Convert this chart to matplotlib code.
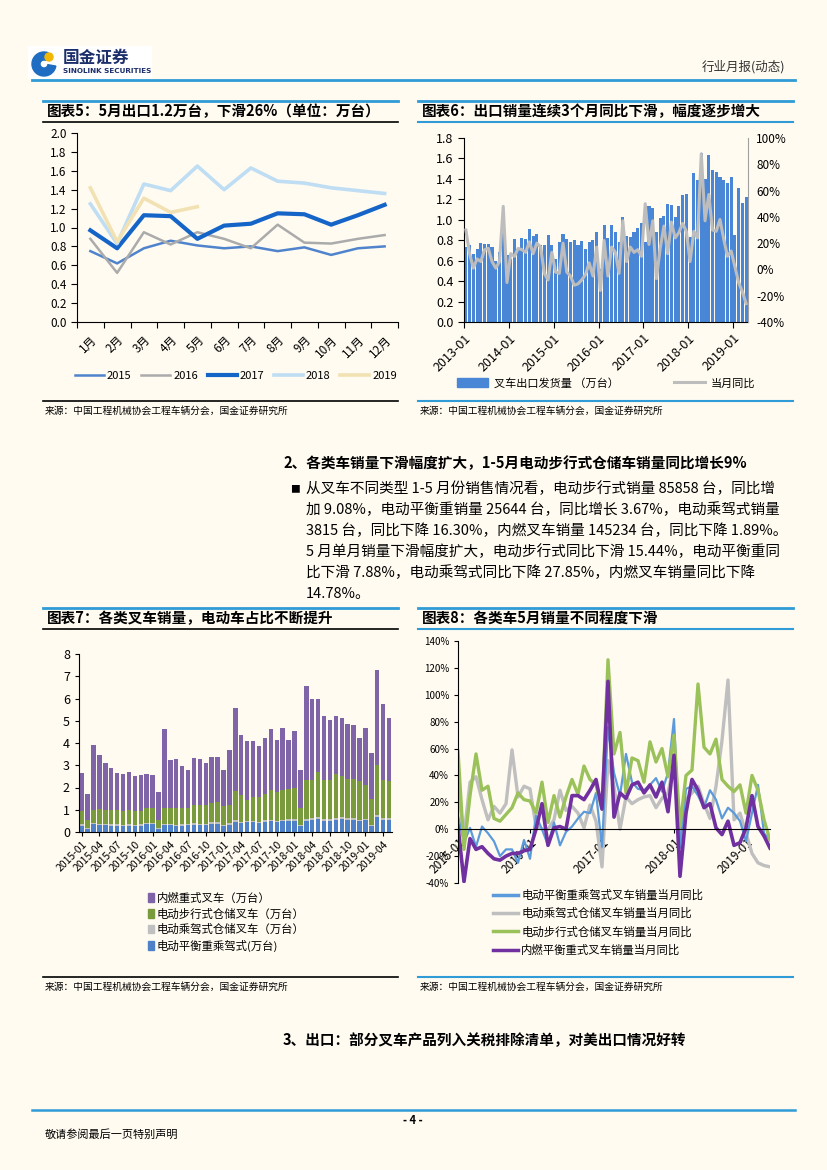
import numpy as np
import matplotlib.pyplot as plt
from matplotlib.lines import Line2D
from matplotlib.patches import Patch, Rectangle, Wedge, Circle
from matplotlib.ticker import FuncFormatter

plt.rcParams['font.family'] = ['Noto Sans CJK SC', 'DejaVu Sans']
plt.rcParams['axes.unicode_minus'] = False

W, H = 827, 1170
BG = '#FFFBF1'
HEAD_BLUE = '#2F9BD7'

# ---- chart 5: monthly exports by year (10k units)
months5 = ['1月', '2月', '3月', '4月', '5月', '6月', '7月', '8月', '9月', '10月', '11月', '12月']
exp_2015 = [0.75, 0.62, 0.78, 0.86, 0.81, 0.78, 0.80, 0.75, 0.79, 0.71, 0.78, 0.80]
exp_2016 = [0.88, 0.52, 0.95, 0.82, 0.95, 0.88, 0.78, 1.03, 0.84, 0.83, 0.88, 0.92]
exp_2017 = [0.97, 0.78, 1.13, 1.12, 0.88, 1.02, 1.04, 1.15, 1.14, 1.03, 1.13, 1.24]
exp_2018 = [1.25, 0.83, 1.46, 1.39, 1.65, 1.40, 1.63, 1.49, 1.47, 1.42, 1.39, 1.36]
exp_2019 = [1.42, 0.85, 1.31, 1.16, 1.22]

# ---- chart 6: export volume 2013-02 .. 2019-05 and yoy
exp_2013 = [0.73, 0.75, 0.67, 0.71, 0.77, 0.76, 0.76, 0.73, 0.60, 0.68, 0.93]
exp_2014 = [0.66, 0.62, 0.81, 0.72, 0.82, 0.81, 0.91, 0.84, 0.86, 0.75, 0.75, 0.85]
exp6 = exp_2013 + exp_2014 + exp_2015 + exp_2016 + exp_2017 + exp_2018 + exp_2019
yoy6 = [30, 12, 1, 8, 6, 15, 16, 6, 1, 6, 48,
        -10, 12, 10, 16, 15, 13, 21, 12, 20, 17, -3, -8,
        13, -2, -3, 20, -2, -5, -12, -11, -8, -4, 5, -5,
        17, -16, 22, -5, 17, 13, -3, 37, 6, 17, 13, 15,
        10, 50, 19, 37, -7, 16, 33, 12, 36, 24, 28, 35,
        29, 6, 29, 24, 88, 37, 57, 30, 29, 38, 23, 10,
        14, 2, -10, -17, -26]
years6 = ['2013-01', '2014-01', '2015-01', '2016-01', '2017-01', '2018-01', '2019-01']

# ---- chart 7: sales by type 2015-01 .. 2019-05 (10k units)
labels7 = ['2015-01', '2015-04', '2015-07', '2015-10', '2016-01', '2016-04', '2016-07', '2016-10',
           '2017-01', '2017-04', '2017-07', '2017-10', '2018-01', '2018-04', '2018-07', '2018-10',
           '2019-01', '2019-04']
elec_cb = [0.28, 0.15, 0.35, 0.30, 0.30, 0.28, 0.28, 0.27, 0.28, 0.27, 0.28, 0.35,
           0.35, 0.15, 0.30, 0.30, 0.25, 0.28, 0.30, 0.33, 0.32, 0.30, 0.38, 0.38,
           0.25, 0.33, 0.45, 0.40, 0.43, 0.43, 0.40, 0.47, 0.48, 0.43, 0.48, 0.50,
           0.50, 0.25, 0.50, 0.53, 0.57, 0.50, 0.50, 0.55, 0.57, 0.55, 0.53, 0.48,
           0.52, 0.28, 0.66, 0.55, 0.55]
elec_ride = [0.06, 0.03, 0.07, 0.06, 0.06, 0.06, 0.06, 0.06, 0.06, 0.05, 0.06, 0.06,
             0.06, 0.03, 0.06, 0.06, 0.06, 0.06, 0.06, 0.06, 0.06, 0.06, 0.07, 0.07,
             0.05, 0.06, 0.08, 0.07, 0.07, 0.07, 0.07, 0.08, 0.08, 0.07, 0.08, 0.08,
             0.08, 0.05, 0.09, 0.09, 0.09, 0.09, 0.09, 0.10, 0.10, 0.10, 0.10, 0.08,
             0.08, 0.05, 0.09, 0.08, 0.08]
elec_walk = [0.59, 0.37, 0.58, 0.67, 0.61, 0.66, 0.63, 0.63, 0.63, 0.61, 0.62, 0.66,
             0.67, 0.37, 0.74, 0.74, 0.79, 0.73, 0.71, 0.81, 0.82, 0.86, 0.85, 0.90,
             0.85, 0.81, 1.30, 1.18, 0.95, 1.07, 1.10, 1.15, 1.31, 1.30, 1.34, 1.37,
             1.39, 0.80, 1.73, 1.70, 2.02, 1.75, 1.75, 1.97, 1.86, 1.75, 1.75, 1.74,
             1.50, 1.17, 2.27, 1.72, 1.65]
ic_heavy = [1.72, 1.17, 2.91, 2.43, 2.15, 1.88, 1.68, 1.65, 1.73, 1.57, 1.59, 1.55,
            1.47, 1.25, 3.53, 2.12, 2.17, 1.91, 1.70, 2.11, 2.07, 1.88, 2.06, 2.01,
            1.65, 2.47, 3.73, 2.69, 2.65, 2.52, 2.31, 2.54, 2.74, 2.35, 2.76, 2.18,
            2.55, 1.70, 4.26, 3.66, 3.30, 2.89, 2.71, 2.61, 2.59, 2.45, 2.41, 1.94,
            2.57, 2.05, 4.26, 3.39, 2.86]

# ---- chart 8: monthly yoy by type (%), 2015-01 .. 2019-05
years8 = ['2015-01', '2016-01', '2017-01', '2018-01', '2019-01']
yoy_cb = [10, -10, 1, -13, 2, -3, -9, -20, -15, -15, -25, -8,
          -22, 10, 0, -12, 5, -12, -2, 2, 8, 13, 12, 27,
          -13, 76, 42, 25, 56, 35, 30, 29, 33, 38, 28, 42,
          82, -14, 30, 32, 25, 16, 29, 22, 8, 16, 12, 6,
          -9, 12, 33, -3, -8]
yoy_ride = [30, -5, 35, 39, 22, 7, 17, 12, 19, 59, 24, 32,
            30, 2, 0, 0, 7, 29, 14, 17, 12, 1, 18, 6,
            -28, 51, 32, 0, 24, 19, 22, 24, 25, 16, 23, 27,
            49, -3, 22, 27, 32, 19, 8, 32, 66, 111, 7, 12,
            -3, -18, -25, -27, -28]
yoy_walk = [58, -15, 25, 56, 29, 32, 8, 6, 11, 16, 27, 22,
            21, 12, 35, 5, 25, 9, 24, 37, 26, 47, 37, 33,
            15, 126, 56, 72, 27, 53, 51, 35, 65, 50, 60, 39,
            70, 2, 40, 44, 108, 61, 56, 67, 37, 32, 28, 33,
            12, 40, 29, 7, -8]
yoy_ic = [2, -39, -7, -15, -13, -18, -22, -23, -20, -18, -18, -16,
          -15, 0, 19, -12, 1, 2, 0, 25, 25, 22, 29, 37,
          15, 110, 9, 27, 23, 33, 35, 27, 33, 24, 35, 13,
          55, -35, 12, 37, 29, 16, 19, 1, -4, 6, -12, -10,
          1, 25, 2, -5, -14]

source = '来源：中国工程机械协会工程车辆分会，国金证券研究所'

fig = plt.figure(figsize=(W / 100, H / 100), dpi=100, facecolor=BG)


def box(l, t, r, b):
    return [l / W, 1 - b / H, (r - l) / W, (b - t) / H]


def hline(x0, x1, y, color, lw):
    fig.add_artist(Line2D([x0 / W, x1 / W], [1 - y / H, 1 - y / H],
                          transform=fig.transFigure, color=color, lw=lw))


def txt(x, y, s, **kw):
    kw.setdefault('va', 'center')
    fig.text(x / W, 1 - y / H, s, **kw)


def pct(v, pos):
    return f'{v:.0f}%'


# header / logo
fig.add_artist(Rectangle((28 / W, 1 - 79 / H), 124 / W, 33 / H, transform=fig.transFigure,
                         facecolor='white', edgecolor='none', zorder=-5))
lax = fig.add_axes(box(30, 47, 60, 79))
lax.set_zorder(5)
lax.patch.set_visible(False)
lax.set_xlim(0, 30)
lax.set_ylim(0, 32)
lax.axis('off')
lax.add_patch(Wedge((14, 15), 12, 70, 350, width=8, color='#1F6DC2'))
lax.add_patch(Circle((19, 22), 4, color='#F2B705'))
txt(63, 58, '国金证券', fontsize=12, fontweight='bold', color='#1C2F6B')
txt(63, 71, 'SINOLINK SECURITIES', fontsize=5.2, fontweight='bold', color='#1C2F6B',
    family=['DejaVu Sans'])
txt(785, 67, '行业月报(动态)', fontsize=9, ha='right', color='#333333')
hline(32, 795, 80, HEAD_BLUE, 2)

# title boxes
hline(43, 398, 101, HEAD_BLUE, 2)
hline(43, 398, 122, 'black', 1.2)
hline(418, 793, 101, HEAD_BLUE, 2)
hline(418, 793, 122, HEAD_BLUE, 1.5)
txt(47, 111, '图表5：5月出口1.2万台，下滑26%（单位：万台）', fontsize=10.5, fontweight='bold')
txt(422, 111, '图表6：出口销量连续3个月同比下滑，幅度逐步增大', fontsize=10.5, fontweight='bold')

# ---- chart 5
ax5 = fig.add_axes(box(77, 133, 398, 322))
ax5.set_facecolor('none')
x5 = np.arange(12)
ax5.plot(x5, exp_2015, color='#4F84CC', lw=1.8)
ax5.plot(x5, exp_2016, color='#ABABAB', lw=1.8)
ax5.plot(x5, exp_2017, color='#1565C8', lw=3.0)
ax5.plot(x5, exp_2018, color='#BFDDF3', lw=2.6)
ax5.plot(np.arange(len(exp_2019)), exp_2019, color='#F2E2B3', lw=2.6)
ax5.set_xlim(-0.5, 11.5)
ax5.set_ylim(0, 2.0)
ax5.set_yticks(np.arange(0, 2.01, 0.2))
ax5.yaxis.set_major_formatter(FuncFormatter(lambda v, p: f'{v:.1f}'))
ax5.set_xticks(np.arange(-0.5, 12, 1))
ax5.set_xticklabels([])
ax5.set_xticks(x5, minor=True)
ax5.set_xticklabels(months5, minor=True, rotation=45, ha='right', rotation_mode='anchor')
ax5.tick_params(axis='x', which='minor', length=0, pad=8, labelsize=8.5)
ax5.tick_params(axis='x', which='major', length=4)
ax5.tick_params(axis='y', labelsize=8.5, length=4)
for s in ['top', 'right']:
    ax5.spines[s].set_visible(False)
h5 = [Line2D([], [], color=c, lw=w) for c, w in
      [('#4F84CC', 1.8), ('#ABABAB', 1.8), ('#1565C8', 3.0), ('#BFDDF3', 2.6), ('#F2E2B3', 2.6)]]
fig.legend(h5, ['2015', '2016', '2017', '2018', '2019'], loc='center', ncol=5,
           bbox_to_anchor=(236 / W, 1 - 376 / H), frameon=False, fontsize=8,
           handlelength=2.6, columnspacing=0.9, handletextpad=0.25)

# ---- chart 6
ax6 = fig.add_axes(box(464, 138, 748, 322))
ax6.set_facecolor('none')
k6 = np.arange(len(exp6))
ax6.bar(k6, exp6, width=0.82, color='#4A86D6')
ax6.set_xlim(-0.5, len(exp6) - 0.5)
ax6.set_ylim(0, 1.8)
ax6.set_yticks(np.arange(0, 1.81, 0.2))
ax6.yaxis.set_major_formatter(FuncFormatter(lambda v, p: f'{v:.1f}'))
ax6.set_xticks(np.arange(-0.5, len(exp6), 12))
ax6.set_xticklabels(years6, rotation=45, ha='right', rotation_mode='anchor')
ax6.tick_params(axis='x', labelsize=9, length=4, pad=3)
ax6.tick_params(axis='y', labelsize=9, length=4)
ax6b = ax6.twinx()
ax6b.plot(k6, yoy6, color='#BDBDBD', lw=2.2)
ax6b.set_ylim(-40, 100)
ax6b.set_yticks(np.arange(-40, 101, 20))
ax6b.yaxis.set_major_formatter(FuncFormatter(pct))
ax6b.tick_params(axis='y', labelsize=8.5, length=0, pad=6)
for a in (ax6, ax6b):
    a.spines['top'].set_visible(False)
ax6.spines['right'].set_visible(False)
ax6b.spines['left'].set_visible(False)
ax6b.spines['bottom'].set_visible(False)
ax6b.spines['right'].set_color('#A0A0A0')
h6 = [Patch(color='#4A86D6'), Line2D([], [], color='#BDBDBD', lw=2.2)]
fig.legend(h6, ['叉车出口发货量 （万台）', '当月同比'], loc='center', ncol=2,
           bbox_to_anchor=(606 / W, 1 - 383 / H), frameon=False, fontsize=8,
           handlelength=2.8, handleheight=0.9, columnspacing=5, handletextpad=0.5)

# sources top
hline(43, 398, 401, 'black', 1.2)
hline(418, 793, 401, HEAD_BLUE, 1.5)
txt(45, 411, source, fontsize=7)
txt(420, 411, source, fontsize=7)

# ---- section 2 text
txt(283, 463, '2、各类车销量下滑幅度扩大，1-5月电动步行式仓储车销量同比增长9%',
    fontsize=10.5, fontweight='bold')
txt(290, 489, '■', fontsize=7)
para = ['从叉车不同类型 1-5 月份销售情况看，电动步行式销量 85858 台，同比增',
        '加 9.08%，电动平衡重销量 25644 台，同比增长 3.67%，电动乘驾式销量',
        '3815 台，同比下降 16.30%，内燃叉车销量 145234 台，同比下降 1.89%。',
        '5 月单月销量下滑幅度扩大，电动步行式同比下滑 15.44%，电动平衡重同',
        '比下滑 7.88%，电动乘驾式同比下降 27.85%，内燃叉车销量同比下降',
        '14.78%。']
for i, line in enumerate(para):
    txt(306, 489 + 21 * i, line, fontsize=10.5)

# title boxes bottom
hline(43, 398, 608, HEAD_BLUE, 2)
hline(43, 398, 629, 'black', 1.2)
hline(418, 793, 608, HEAD_BLUE, 2)
hline(418, 793, 629, HEAD_BLUE, 1.5)
txt(47, 618, '图表7：各类叉车销量，电动车占比不断提升', fontsize=10.5, fontweight='bold')
txt(422, 618, '图表8：各类车5月销量不同程度下滑', fontsize=10.5, fontweight='bold')

# ---- chart 7
ax7 = fig.add_axes(box(79, 654, 392, 832))
ax7.set_facecolor('none')
k7 = np.arange(len(ic_heavy))
c7 = ['#4F81C9', '#C0C0C0', '#7A9A3E', '#8064A8']
bottom = np.zeros(len(k7))
for vals, c in zip([elec_cb, elec_ride, elec_walk, ic_heavy], c7):
    ax7.bar(k7, vals, bottom=bottom, width=0.75, color=c)
    bottom = bottom + np.array(vals)
ax7.set_xlim(-0.45, len(k7) - 0.5)
ax7.set_ylim(0, 8)
ax7.set_yticks(range(0, 9))
ax7.set_xticks(np.arange(0, len(k7), 3))
ax7.set_xticklabels(labels7, rotation=45, ha='right', rotation_mode='anchor')
ax7.tick_params(axis='x', labelsize=7.5, length=3, pad=2)
ax7.tick_params(axis='y', labelsize=9, length=3)
for s in ['top', 'right']:
    ax7.spines[s].set_visible(False)
h7 = [Patch(color=c7[3]), Patch(color=c7[2]), Patch(color=c7[1]), Patch(color=c7[0])]
fig.legend(h7, ['内燃重式叉车（万台）', '电动步行式仓储叉车（万台）',
                '电动乘驾式仓储叉车（万台）', '电动平衡重乘驾式(万台)'],
           loc='upper left', bbox_to_anchor=(143 / W, 1 - 888 / H), frameon=False,
           fontsize=8.2, handlelength=0.6, handleheight=0.8, handletextpad=0.2,
           labelspacing=0.4, borderaxespad=0)

# ---- chart 8
ax8 = fig.add_axes(box(458, 641, 770, 883))
ax8.set_facecolor('none')
k8 = np.arange(len(yoy_ic))
ax8.plot(k8, yoy_ride, color='#BFBFBF', lw=2.4)
ax8.plot(k8, yoy_cb, color='#5B9BDB', lw=1.6)
ax8.plot(k8, yoy_walk, color='#9BC25A', lw=2.4)
ax8.plot(k8, yoy_ic, color='#7030A0', lw=2.6)
ax8.set_xlim(0, len(k8) - 1)
ax8.set_ylim(-40, 140)
ax8.set_yticks(np.arange(-40, 141, 20))
ax8.yaxis.set_major_formatter(FuncFormatter(pct))
ax8.spines['bottom'].set_position(('data', 0))
ax8.set_xticks(np.arange(0, len(k8), 12))
ax8.set_xticklabels(years8, rotation=45, ha='right', rotation_mode='anchor')
ax8.tick_params(axis='x', labelsize=8.5, length=3, pad=2)
ax8.tick_params(axis='y', labelsize=7, length=3)
for s in ['top', 'right']:
    ax8.spines[s].set_visible(False)
h8 = [Line2D([], [], color=c, lw=2.5) for c in ['#5B9BDB', '#BFBFBF', '#9BC25A', '#7030A0']]
fig.legend(h8, ['电动平衡重乘驾式叉车销量当月同比', '电动乘驾式仓储叉车销量当月同比',
                '电动步行式仓储叉车销量当月同比', '内燃平衡重式叉车销量当月同比'],
           loc='upper left', bbox_to_anchor=(488 / W, 1 - 885 / H), frameon=False,
           fontsize=8.2, handlelength=2.2, handletextpad=0.3, labelspacing=0.62,
           borderaxespad=0)

# sources bottom
hline(43, 398, 977, 'black', 1.2)
hline(418, 793, 977, HEAD_BLUE, 1.5)
txt(45, 987, source, fontsize=7)
txt(420, 987, source, fontsize=7)

# section 3 heading and footer
txt(283, 1040, '3、出口：部分叉车产品列入关税排除清单，对美出口情况好转',
    fontsize=10.5, fontweight='bold')
hline(32, 795, 1110, HEAD_BLUE, 1.8)
txt(413, 1120, '- 4 -', fontsize=8, fontweight='bold', ha='center')
txt(45, 1135, '敬请参阅最后一页特别声明', fontsize=8)

fig.savefig('out.png', dpi=100, facecolor=BG)
